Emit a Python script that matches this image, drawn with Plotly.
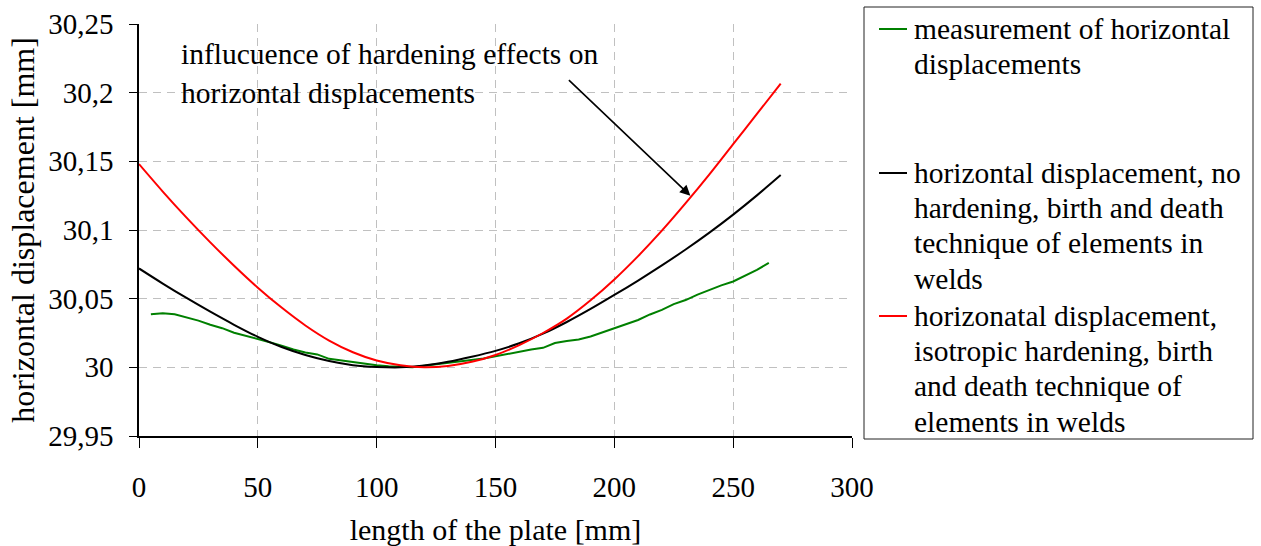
import plotly.graph_objects as go

# ---------------- data ----------------
x_meas = [5, 10, 15, 20, 25, 30, 35, 40, 45, 50, 55, 60, 65, 70, 75, 80, 85, 90, 95, 100,
          105, 110, 115, 120, 125, 130, 135, 140, 145, 150, 155, 160, 165, 170, 175, 180,
          185, 190, 195, 200, 205, 210, 215, 220, 225, 230, 235, 240, 245, 250, 255, 260, 265]
y_meas = [30.0386, 30.0393, 30.0386, 30.0362, 30.0340, 30.0310, 30.0285, 30.0252, 30.0230,
          30.0207, 30.0183, 30.0158, 30.0130, 30.0108, 30.0094, 30.0062, 30.0050, 30.0040,
          30.0025, 30.0015, 30.0008, 30.0002, 30.0000, 30.0012, 30.0022, 30.0033, 30.0043,
          30.0052, 30.0065, 30.0080, 30.0096, 30.0116, 30.0130, 30.0142, 30.0177, 30.0192,
          30.0202, 30.0225, 30.0255, 30.0282, 30.0312, 30.0345, 30.0385, 30.0418, 30.0460,
          30.0490, 30.0530, 30.0565, 30.0597, 30.0625, 30.0665, 30.0710, 30.0760]

x_sim = [0, 10, 20, 30, 40, 50, 60, 70, 80, 90, 100, 110, 120, 130, 140, 150, 160, 170,
         180, 190, 200, 210, 220, 230, 240, 250, 260, 270]
y_nohard = [30.0720, 30.0610, 30.0505, 30.0405, 30.0310, 30.0222, 30.0148, 30.0090,
            30.0046, 30.0016, 30.0003, 30.0000, 30.0013, 30.0040, 30.0077, 30.0120,
            30.0175, 30.0245, 30.0330, 30.0425, 30.0527, 30.0632, 30.0742, 30.0858,
            30.0981, 30.1112, 30.1252, 30.1400]
y_iso = [30.1480, 30.1280, 30.1090, 30.0910, 30.0740, 30.0580, 30.0435, 30.0305,
         30.0195, 30.0110, 30.0050, 30.0015, 30.0000, 30.0010, 30.0040, 30.0090,
         30.0162, 30.0250, 30.0355, 30.0488, 30.0640, 30.0810, 30.0995, 30.1195,
         30.1405, 30.1625, 30.1845, 30.2065]

series_names = [
    ["measurement of horizontal", "displacements"],
    ["horizontal displacement, no", "hardening, birth and death",
     "technique of elements in", "welds"],
    ["horizonatal displacement,", "isotropic hardening, birth",
     "and death technique of", "elements in welds"],
]
colors = ["#008000", "#000000", "#ff0000"]

x_ticks = [0, 50, 100, 150, 200, 250, 300]
y_ticks = [29.95, 30.0, 30.05, 30.1, 30.15, 30.2, 30.25]
y_ticktext = ["29,95", "30", "30,05", "30,1", "30,15", "30,2", "30,25"]

note_lines = ["influcuence of hardening effects on", "horizontal displacements"]
arrow_tip = (232, 30.125)

FONT = "Liberation Serif"

W, H = 1261, 546
ml, mr, mt, mb = 139, 409, 24, 110
pw, ph = W - ml - mr, H - mt - mb


def px_to_paper_x(px):
    return (px - ml) / pw


def px_to_paper_y(py):
    return (H - mb - py) / ph


fig = go.Figure()
xs = [x_meas, x_sim, x_sim]
ys = [y_meas, y_nohard, y_iso]
shapes_line = ["linear", "spline", "spline"]
for i in range(3):
    fig.add_trace(go.Scatter(x=xs[i], y=ys[i], mode="lines",
                             name=" ".join(series_names[i]), showlegend=False,
                             line=dict(color=colors[i], width=2, shape=shapes_line[i],
                                       smoothing=0.8)))

fig.update_layout(
    width=W, height=H,
    margin=dict(l=ml, r=mr, t=mt, b=mb, pad=0, autoexpand=False),
    paper_bgcolor="white", plot_bgcolor="white",
    font=dict(family=FONT, size=28, color="black"),
    showlegend=False,
    xaxis=dict(
        range=[0, 300], tickvals=x_ticks, ticktext=[str(v) for v in x_ticks],
        showline=True, linecolor="black", linewidth=1.5,
        ticks="outside", ticklen=10, tickcolor="black", tickwidth=1.2,
        showgrid=True, gridcolor="#c0c0c0", gridwidth=1, griddash="8px,6px",
        zeroline=False, ticklabelstandoff=14, automargin=False,
        tickfont=dict(size=29),
        title=dict(text="length of the plate [mm]", font=dict(size=30), standoff=20),
    ),
    yaxis=dict(
        range=[29.95, 30.25], tickvals=y_ticks, ticktext=y_ticktext,
        showline=True, linecolor="black", linewidth=1.5,
        ticks="outside", ticklen=8, tickcolor="black", tickwidth=1.2,
        showgrid=True, gridcolor="#c0c0c0", gridwidth=1, griddash="8px,6px",
        zeroline=False, ticklabelstandoff=10, automargin=False,
        tickfont=dict(size=29),
        title=dict(text="horizontal displacement [mm]", font=dict(size=32), standoff=4),
    ),
)

# annotation text + arrow
note_y = [54, 93]
for t, yy in zip(note_lines, note_y):
    fig.add_annotation(text=t, xref="paper", yref="paper",
                       x=px_to_paper_x(179), y=px_to_paper_y(yy),
                       xanchor="left", yanchor="middle", showarrow=False,
                       font=dict(family=FONT, size=29.5, color="black"))
fig.add_annotation(text="", x=arrow_tip[0], y=arrow_tip[1], xref="x", yref="y",
                   ax=-123, ay=-117, axref="pixel", ayref="pixel",
                   showarrow=True, arrowhead=2, arrowsize=1.3, arrowwidth=1.6,
                   arrowcolor="black")

# legend box (drawn manually to reproduce the reference layout)
fig.add_shape(type="rect", xref="paper", yref="paper",
              x0=px_to_paper_x(864), x1=px_to_paper_x(1253),
              y0=px_to_paper_y(439), y1=px_to_paper_y(7),
              line=dict(color="#222222", width=1), fillcolor="white", layer="above")
item_top = [29, 173, 316]
line_gap = 35.2
for i in range(3):
    y0 = item_top[i]
    fig.add_shape(type="line", xref="paper", yref="paper",
                  x0=px_to_paper_x(879), x1=px_to_paper_x(907),
                  y0=px_to_paper_y(y0), y1=px_to_paper_y(y0),
                  line=dict(color=colors[i], width=2), layer="above")
    for j, t in enumerate(series_names[i]):
        fig.add_annotation(text=t, xref="paper", yref="paper",
                           x=px_to_paper_x(912), y=px_to_paper_y(y0 + j * line_gap),
                           xanchor="left", yanchor="middle", showarrow=False,
                           font=dict(family=FONT, size=29.5, color="black"))

fig.write_html("out.html")
